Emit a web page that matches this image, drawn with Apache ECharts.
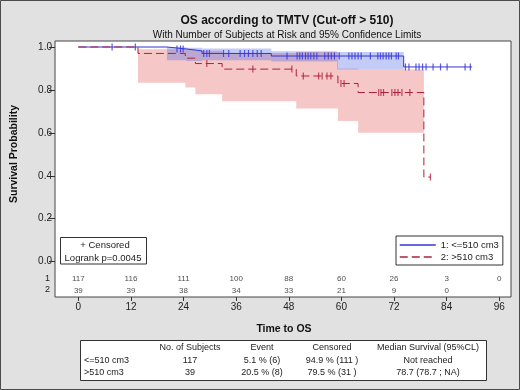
<!DOCTYPE html>
<html lang="en">
<head>
<meta charset="UTF-8">
<title>OS according to TMTV</title>
<script src="https://cdn.jsdelivr.net/npm/echarts@6/dist/echarts.min.js"></script>
<style>
    html, body { margin: 0; padding: 0; background: #e1e1e1; }
    #main { width: 520px; height: 390px; }
</style>
</head>
<body>
<div id="main"></div>
<script type="text/javascript">

    // Kaplan-Meier steps (months, survival)
    const blueTimes = [0, 20.2, 24.6, 28.2, 44.0, 74.2, 89.8];
    const blueSurv  = [1.0, 0.991, 0.982, 0.970, 0.958, 0.907, 0.907];
    const redTimes  = [0, 13.6, 24.4, 26.7, 32.8, 49.7, 59.2, 63.8, 78.8, 80.3];
    const redSurv   = [1.0, 0.970, 0.948, 0.923, 0.897, 0.865, 0.830, 0.788, 0.394, 0.394];

    // censored times
    const blueCens = [7.7, 13.0, 22.5, 23.3, 23.9, 28.6, 29.3, 29.9, 33.1, 34.3, 36.9, 37.9, 38.8, 39.8,
        40.8, 41.7, 47.6, 49.9, 50.5, 51.1, 51.8, 52.4, 53.0, 53.7, 54.4, 56.2, 57.0, 57.7, 58.4, 59.5,
        61.7, 62.4, 63.1, 63.8, 64.5, 66.6, 68.3, 68.9, 69.5, 70.2, 70.8, 71.4, 72.5, 73.0, 74.6, 75.4,
        77.0, 77.7, 78.5, 79.3, 80.9, 82.6, 84.1, 88.2, 89.4];
    const redCens = [29.3, 39.8, 48.7, 51.3, 54.8, 55.6, 56.7, 57.6, 59.9, 60.6, 68.5, 69.0, 69.6,
        71.5, 72.2, 72.9, 73.8, 75.6, 80.3];

    // 95% confidence bands: step starts (last entry = end), lower, upper
    const blueBandT  = [20.2, 24.6, 28.2, 44.0, 59.0, 74.2];
    const blueBandLo = [0.938, 0.935, 0.938, 0.932, 0.895];
    const blueBandHi = [0.999, 0.997, 0.993, 0.980, 0.977];
    const redBandT   = [13.6, 24.4, 26.7, 32.8, 49.7, 59.2, 63.8, 78.8];
    const redBandLo  = [0.834, 0.811, 0.780, 0.747, 0.713, 0.655, 0.600];
    const redBandHi  = [0.990, 0.988, 0.982, 0.972, 0.977, 0.900, 0.895];

    // number at risk
    const riskTimes = [0, 12, 24, 36, 48, 60, 72, 84, 96];
    const risk1 = [117, 116, 111, 100, 88, 60, 26, 3, 0];
    const risk2 = [39, 39, 38, 34, 33, 21, 9, 0];

    const xTicks = [0, 12, 24, 36, 48, 60, 72, 84, 96];
    const yTicks = [0, 0.2, 0.4, 0.6, 0.8, 1.0];

    // summary table
    const tableHead = ['', 'No. of Subjects', 'Event', 'Censored', 'Median Survival (95%CL)'];
    const tableRow1 = ['<=510 cm3', '117', '5.1 % (6)', '94.9 % (111 )', 'Not reached'];
    const tableRow2 = ['>510 cm3', '39', '20.5 % (8)', '79.5 % (31 )', '78.7 (78.7 ; NA)'];

    const BLUE = '#3434d6';
    const RED = '#b0203a';
    const FONT = 'Liberation Sans';

    function survAt(times, surv, t) {
        let s = surv[0];
        for (let i = 0; i < times.length; i++) {
            if (times[i] <= t) s = surv[i];
        }
        return s;
    }

    function bandItem(ts, lo, hi, fill) {
        return function (params, api) {
            const top = [], bottom = [];
            for (let i = 0; i < lo.length; i++) {
                top.push(api.coord([ts[i], hi[i]]), api.coord([ts[i + 1], hi[i]]));
                bottom.push(api.coord([ts[i], lo[i]]), api.coord([ts[i + 1], lo[i]]));
            }
            return {
                type: 'polygon',
                shape: {points: top.concat(bottom.reverse())},
                style: {fill: fill}
            };
        };
    }

    function tableText(row, y) {
        const xs = [84, 190, 262, 332, 428];
        return row.map(function (t, i) {
            return {
                type: 'text', x: xs[i], y: y,
                style: {
                    text: t, fill: '#222', font: '9px "' + FONT + '"',
                    align: i === 0 ? 'left' : 'center', verticalAlign: 'middle'
                }
            };
        });
    }

    const myChart = echarts.init(document.getElementById('main'));

    const option = {
        backgroundColor: '#e1e1e1',
        animation: false,
        textStyle: {fontFamily: FONT},
        title: [{
            text: 'OS according to TMTV (Cut-off > 510)',
            left: 282, top: 10, textAlign: 'center',
            textStyle: {fontSize: 12, fontWeight: 'bold', color: '#111'}
        }, {
            text: 'With Number of Subjects at Risk and 95% Confidence Limits',
            left: 282, top: 25, textAlign: 'center',
            textStyle: {fontSize: 10, fontWeight: 'normal', color: '#111'}
        }],
        legend: {
            data: ['1: <=510 cm3', '2: >510 cm3'],
            orient: 'vertical',
            left: 396, top: 236,
            padding: [4, 4, 3, 3],
            itemGap: 2,
            itemWidth: 36, itemHeight: 10,
            borderColor: '#333', borderWidth: 1,
            backgroundColor: '#fff',
            itemStyle: {opacity: 0},
            lineStyle: {width: 1.5},
            textStyle: {fontSize: 9.5, color: '#222'}
        },
        grid: {
            left: 55, right: 9, top: 41, bottom: 93,
            show: true, backgroundColor: '#fff', borderColor: '#444', borderWidth: 1
        },
        xAxis: {
            type: 'value', min: -5.32, max: 98.67,
            axisLine: {show: false, onZero: false},
            splitLine: {show: false},
            axisTick: {show: true, length: 4, customValues: xTicks, lineStyle: {color: '#333'}},
            axisLabel: {customValues: xTicks, fontSize: 10, color: '#222', margin: 5}
        },
        yAxis: {
            type: 'value', min: -0.165, max: 1.028,
            axisLine: {show: false, onZero: false},
            splitLine: {show: false},
            axisTick: {show: true, length: 6, customValues: yTicks, lineStyle: {color: '#333'}},
            axisLabel: {
                customValues: yTicks, fontSize: 10, color: '#222', margin: 3,
                formatter: function (v) { return v.toFixed(1); }
            }
        },
        series: [{
            type: 'custom', name: 'redBand', silent: true, z: 1,
            renderItem: bandItem(redBandT, redBandLo, redBandHi, 'rgba(225,70,70,0.30)'),
            data: [[redBandT[0], redBandLo[0]]]
        }, {
            type: 'custom', name: 'blueBand', silent: true, z: 1,
            renderItem: bandItem(blueBandT, blueBandLo, blueBandHi, 'rgba(80,110,230,0.35)'),
            data: [[blueBandT[0], blueBandLo[0]]]
        }, {
            type: 'line', name: '1: <=510 cm3', step: 'end', symbol: 'none', z: 3,
            lineStyle: {color: BLUE, width: 1},
            itemStyle: {color: BLUE},
            data: blueTimes.map((t, i) => [t, blueSurv[i]])
        }, {
            type: 'line', name: '2: >510 cm3', step: 'end', symbol: 'none', z: 4,
            lineStyle: {color: RED, width: 1, type: [8, 4]},
            itemStyle: {color: RED},
            data: redTimes.map((t, i) => [t, redSurv[i]])
        }, {
            type: 'scatter', name: 'blueCens', symbol: 'rect', symbolSize: [1.2, 7], z: 3,
            itemStyle: {color: BLUE},
            data: blueCens.map(t => [t, survAt(blueTimes, blueSurv, t)])
        }, {
            type: 'scatter', name: 'redCens', symbol: 'rect', symbolSize: [1.2, 7], z: 4,
            itemStyle: {color: RED},
            data: redCens.map(t => [t, survAt(redTimes, redSurv, t)])
        }, {
            type: 'scatter', name: 'risk1', symbolSize: 0, silent: true,
            label: {show: true, position: 'inside', fontSize: 8, color: '#222',
                formatter: p => String(p.value[2])},
            data: risk1.map((n, i) => [riskTimes[i], -0.081, n])
        }, {
            type: 'scatter', name: 'risk2', symbolSize: 0, silent: true,
            label: {show: true, position: 'inside', fontSize: 8, color: '#222',
                formatter: p => String(p.value[2])},
            data: risk2.map((n, i) => [riskTimes[i], -0.134, n])
        }],
        graphic: [
            {type: 'rect', shape: {x: 0.5, y: 0.5, width: 519, height: 389},
                style: {fill: 'none', stroke: '#4a4a4a', lineWidth: 1}, z: 100},
            {type: 'text', x: 14, y: 154, rotation: Math.PI / 2,
                style: {text: 'Survival Probability', font: 'bold 10.5px "' + FONT + '"', fill: '#111',
                    align: 'center', verticalAlign: 'middle'}},
            {type: 'text', x: 284, y: 329,
                style: {text: 'Time to OS', font: 'bold 10.5px "' + FONT + '"', fill: '#111',
                    align: 'center', verticalAlign: 'middle'}},
            {type: 'text', x: 50, y: 279,
                style: {text: '1', font: '9px "' + FONT + '"', fill: '#222', align: 'right', verticalAlign: 'middle'}},
            {type: 'text', x: 50, y: 290,
                style: {text: '2', font: '9px "' + FONT + '"', fill: '#222', align: 'right', verticalAlign: 'middle'}},
            {type: 'rect', shape: {x: 60.5, y: 237.5, width: 86, height: 26.5},
                style: {fill: '#fff', stroke: '#333', lineWidth: 1}, z: 10},
            {type: 'text', x: 105, y: 245, z: 11,
                style: {text: '+ Censored', font: '9.5px "' + FONT + '"', fill: '#222', align: 'center', verticalAlign: 'middle'}},
            {type: 'text', x: 103, y: 258.5, z: 11,
                style: {text: 'Logrank p=0.0045', font: '9.5px "' + FONT + '"', fill: '#222', align: 'center', verticalAlign: 'middle'}},
            {type: 'rect', shape: {x: 80.5, y: 340.5, width: 406, height: 40},
                style: {fill: '#fff', stroke: '#333', lineWidth: 1}}
        ].concat(tableText(tableHead, 347.5), tableText(tableRow1, 361), tableText(tableRow2, 373))
    };
    myChart.setOption(option);
</script>
</body>
</html>
